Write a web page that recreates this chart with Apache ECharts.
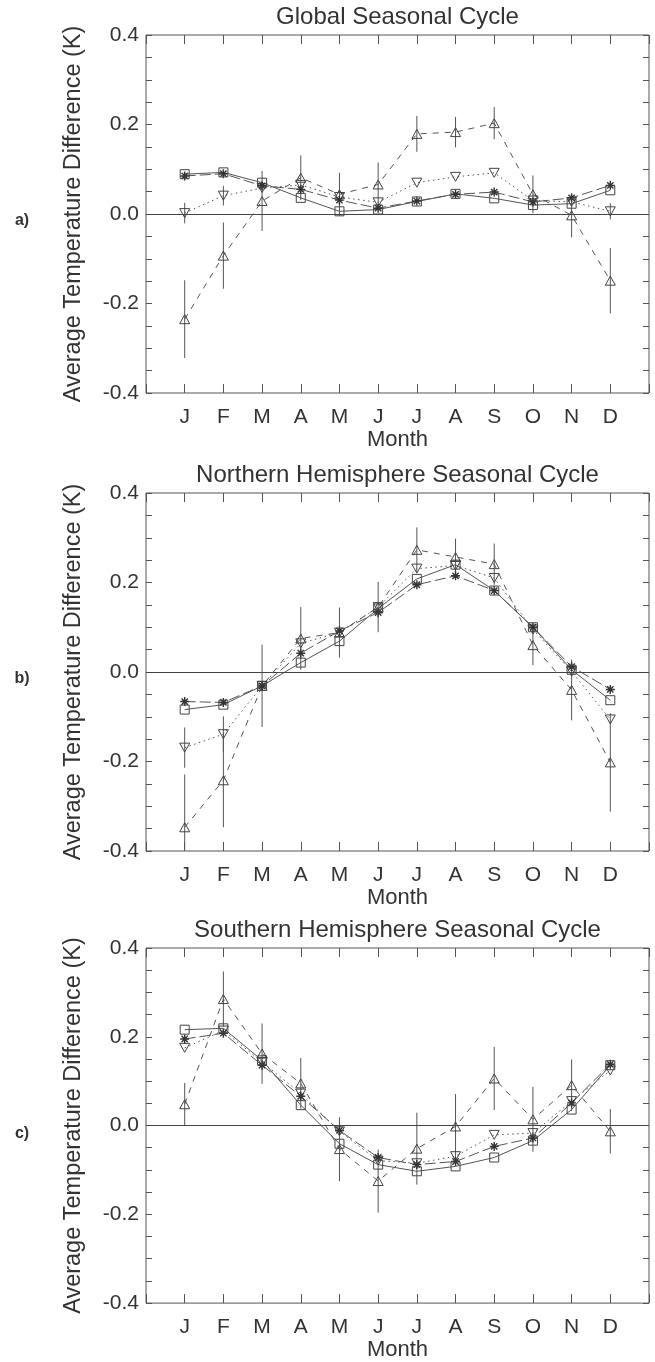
<!DOCTYPE html>
<html>
<head>
<meta charset="utf-8">
<script src="https://cdn.jsdelivr.net/npm/echarts@6/dist/echarts.min.js"></script>
<style>
  html, body { margin: 0; padding: 0; background: #fff; }
  #chart { width: 655px; height: 1362px; }
</style>
</head>
<body>
<div id="chart"></div>
<script>
// months on the x axis (positions 1..12)
const months = ['J', 'F', 'M', 'A', 'M', 'J', 'J', 'A', 'S', 'O', 'N', 'D']
const yLabelValues = [-0.4, -0.2, 0.0, 0.2, 0.4]
const panelTitles = ['Global Seasonal Cycle', 'Northern Hemisphere Seasonal Cycle', 'Southern Hemisphere Seasonal Cycle']
const panelTags = ['a)', 'b)', 'c)']

// a) global
const globalSquare = [0.089, 0.093, 0.070, 0.036, 0.006, 0.010, 0.028, 0.045, 0.035, 0.020, 0.023, 0.053]
const globalStar = [0.085, 0.090, 0.063, 0.055, 0.031, 0.013, 0.029, 0.044, 0.049, 0.027, 0.036, 0.064]
const globalDown = [0.002, 0.041, 0.058, 0.065, 0.038, 0.026, 0.070, 0.083, 0.092, 0.030, 0.027, 0.006]
const globalUp = [-0.235, -0.093, 0.029, 0.081, 0.044, 0.066, 0.179, 0.183, 0.203, 0.044, -0.003, -0.149]
const globalUpErr = [0.087, 0.074, 0.067, 0.050, 0.048, 0.049, 0.040, 0.034, 0.036, 0.042, 0.049, 0.073]
const globalDownErr = [0.023, 0.022, null, null, null, null, null, null, null, null, null, 0.018]

// b) northern hemisphere
const nhSquare = [-0.084, -0.073, -0.031, 0.021, 0.069, 0.142, 0.208, 0.240, 0.182, 0.100, 0.005, -0.063]
const nhStar = [-0.066, -0.068, -0.031, 0.042, 0.092, 0.133, 0.195, 0.215, 0.182, 0.100, 0.012, -0.039]
const nhDown = [-0.169, -0.139, -0.031, 0.064, 0.088, 0.145, 0.231, 0.238, 0.210, 0.095, 0.001, -0.106]
const nhUp = [-0.347, -0.242, -0.031, 0.075, 0.088, 0.145, 0.273, 0.257, 0.241, 0.060, -0.040, -0.202]
const nhUpErr = [0.118, 0.105, 0.092, 0.070, 0.056, 0.056, 0.050, 0.041, 0.046, 0.045, 0.068, 0.110]
const nhDownErr = [0.045, 0.040, null, null, null, null, null, null, null, null, null, null]

// c) southern hemisphere
const shSquare = [0.216, 0.219, 0.147, 0.046, -0.041, -0.088, -0.103, -0.092, -0.072, -0.034, 0.036, 0.136]
const shStar = [0.195, 0.208, 0.136, 0.066, -0.011, -0.072, -0.088, -0.081, -0.047, -0.028, 0.051, 0.138]
const shDown = [0.175, 0.214, 0.143, 0.072, -0.013, -0.079, -0.085, -0.069, -0.021, -0.017, 0.055, 0.124]
const shUp = [0.048, 0.285, 0.162, 0.095, -0.053, -0.125, -0.052, -0.002, 0.106, 0.014, 0.091, -0.013]
const shUpErr = [0.048, 0.062, 0.068, 0.057, 0.072, 0.071, 0.081, 0.073, 0.071, 0.073, 0.058, 0.050]
const shDownErr = [null, null, null, null, null, null, null, null, null, null, null, null]

const panels = [
  {sq: globalSquare, st: globalStar, dn: globalDown, up: globalUp, upErr: globalUpErr, dnErr: globalDownErr},
  {sq: nhSquare, st: nhStar, dn: nhDown, up: nhUp, upErr: nhUpErr, dnErr: nhDownErr},
  {sq: shSquare, st: shStar, dn: shDown, up: shUp, upErr: shUpErr, dnErr: shDownErr},
]

const FONT = "'Liberation Sans', Arial, Helvetica, sans-serif"
const TEXT = '#333'
const LINE = '#555'
const gridTops = [35, 493, 948]
const gridH = 358
const gridLeft = 146
const gridW = 503
const yMin = -0.4, yMax = 0.4

const starPath = 'path://M5,0L5,10M0,5L10,5M1.5,1.5L8.5,8.5M1.5,8.5L8.5,1.5'
const downTriPath = 'path://M0,0L10,0L5,9Z'
const upTriPath = 'path://M5,0L10,9L0,9Z'

const pts = (arr) => arr.map((v, i) => [i + 1, v])
const errPts = (vals, errs) => {
  const out = []
  errs.forEach((e, i) => {
    if (e == null) return
    out.push([i + 1, Math.max(yMin, vals[i] - e), Math.min(yMax, vals[i] + e)])
  })
  return out
}

const grid = [], xAxis = [], yAxis = [], series = [], graphic = []

panels.forEach((p, k) => {
  grid.push({
    left: gridLeft, top: gridTops[k], width: gridW, height: gridH,
    show: true, borderColor: LINE, borderWidth: 1, backgroundColor: 'transparent'
  })
  const xi = xAxis.length, yi = yAxis.length
  xAxis.push({
    type: 'value', gridIndex: k, min: 0, max: 13, interval: 1, position: 'bottom',
    name: 'Month', nameLocation: 'middle', nameGap: 34,
    nameTextStyle: {color: TEXT, fontSize: 22, fontFamily: FONT},
    axisLine: {show: false, onZero: false},
    axisTick: {show: true, inside: true, length: 9, lineStyle: {color: LINE}},
    axisLabel: {
      color: TEXT, fontSize: 21, fontFamily: FONT, margin: 14,
      formatter: (v) => (v >= 1 && v <= 12 ? months[v - 1] : '')
    },
    splitLine: {show: false}
  })
  xAxis.push({
    type: 'value', gridIndex: k, min: 0, max: 13, interval: 1, position: 'top',
    axisLine: {show: false, onZero: false},
    axisTick: {show: true, inside: true, length: 9, lineStyle: {color: LINE}},
    axisLabel: {show: false}, splitLine: {show: false}
  })
  yAxis.push({
    type: 'value', gridIndex: k, min: yMin, max: yMax, interval: 0.05, position: 'left',
    name: 'Average Temperature Difference (K)', nameLocation: 'middle', nameGap: 60,
    nameTextStyle: {color: TEXT, fontSize: 23.5, fontFamily: FONT},
    axisLine: {show: false, onZero: false},
    axisTick: {show: true, inside: true, length: 6, lineStyle: {color: LINE}},
    axisLabel: {
      color: TEXT, fontSize: 21, fontFamily: FONT, margin: 7,
      formatter: (v) => {
        const hit = yLabelValues.find(t => Math.abs(t - v) < 1e-6)
        return hit === undefined ? '' : hit.toFixed(1)
      }
    },
    splitLine: {show: false}
  })
  yAxis.push({
    type: 'value', gridIndex: k, min: yMin, max: yMax, interval: 0.05, position: 'right',
    axisLine: {show: false, onZero: false},
    axisTick: {show: true, inside: true, length: 6, lineStyle: {color: LINE}},
    axisLabel: {show: false}, splitLine: {show: false}
  })

  const base = {type: 'line', xAxisIndex: xi, yAxisIndex: yi, animation: false, symbolKeepAspect: true}

  // error bars
  series.push({
    type: 'custom', xAxisIndex: xi, yAxisIndex: yi, animation: false, clip: true,
    data: errPts(p.up, p.upErr).concat(errPts(p.dn, p.dnErr)),
    encode: {x: 0, y: [1, 2]},
    renderItem: (params, api) => {
      const lo = api.coord([api.value(0), api.value(1)])
      const hi = api.coord([api.value(0), api.value(2)])
      return {type: 'line', shape: {x1: lo[0], y1: lo[1], x2: hi[0], y2: hi[1]}, style: {stroke: LINE, lineWidth: 1}}
    },
    z: 1
  })

  series.push(Object.assign({}, base, {
    name: 'up', data: pts(p.up), symbol: upTriPath, symbolSize: 10,
    lineStyle: {color: LINE, width: 1, type: [6, 6]},
    itemStyle: {color: 'rgba(0,0,0,0)', borderColor: '#444', borderWidth: 1}
  }))
  series.push(Object.assign({}, base, {
    name: 'down', data: pts(p.dn), symbol: downTriPath, symbolSize: 10,
    lineStyle: {color: LINE, width: 1, type: [1.5, 3.5]},
    itemStyle: {color: 'rgba(0,0,0,0)', borderColor: '#444', borderWidth: 1}
  }))
  series.push(Object.assign({}, base, {
    name: 'star', data: pts(p.st), symbol: starPath, symbolSize: 9,
    lineStyle: {color: LINE, width: 1, type: [11, 4]},
    itemStyle: {color: 'rgba(0,0,0,0)', borderColor: '#333', borderWidth: 1.4}
  }))
  series.push(Object.assign({}, base, {
    name: 'square', data: pts(p.sq), symbol: 'rect', symbolSize: 9,
    lineStyle: {color: LINE, width: 1, type: 'solid'},
    itemStyle: {color: 'rgba(0,0,0,0)', borderColor: '#444', borderWidth: 1},
    markLine: {
      silent: true, symbol: 'none', label: {show: false},
      lineStyle: {color: '#444', width: 1, type: 'solid'},
      data: [{yAxis: 0}]
    }
  }))

  graphic.push({
    type: 'text', x: gridLeft + gridW / 2, y: gridTops[k] - 18,
    style: {text: panelTitles[k], fill: TEXT, font: '24px ' + FONT, textAlign: 'center', textVerticalAlign: 'middle'}
  })
  graphic.push({
    type: 'text', x: 22, y: gridTops[k] + gridH / 2 + 7,
    style: {text: panelTags[k], fill: TEXT, font: 'bold 16px ' + FONT, textAlign: 'center', textVerticalAlign: 'middle'}
  })
})

const myChart = echarts.init(document.getElementById('chart'))
const option = {
  backgroundColor: '#fff',
  animation: false,
  grid, xAxis, yAxis, series, graphic
}
option && myChart.setOption(option)
</script>
</body>
</html>
